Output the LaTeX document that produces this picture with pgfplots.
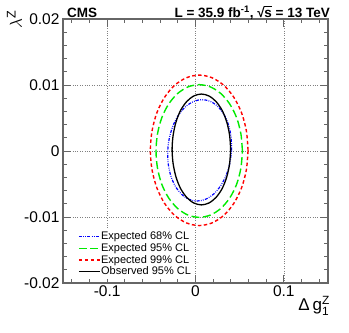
\documentclass[border=0pt]{standalone}
\usepackage{fontspec}
\setmainfont{Liberation Sans}
\usepackage{amsmath}
\usepackage{pgfplots}
\pgfplotsset{compat=1.18}
\usetikzlibrary{calc}
\definecolor{framegray}{gray}{0.4}
\definecolor{rootgreen}{RGB}{0,235,0}
\definecolor{rootred}{RGB}{255,0,0}
\definecolor{rootblue}{RGB}{0,0,255}

\begin{document}
\begin{tikzpicture}
\begin{axis}[
    scale only axis, width=265pt, height=264pt,
    xmin=-0.15, xmax=0.15, ymin=-0.02, ymax=0.02,
    xtick={-0.1,0,0.1}, xticklabels={-0.1,0,0.1},
    ytick={-0.02,-0.01,0,0.01,0.02}, yticklabels={-0.02,-0.01,0,0.01,0.02},
    minor xtick={-0.14,-0.12,-0.08,-0.06,-0.04,-0.02,0.02,0.04,0.06,0.08,0.12,0.14},
    minor ytick={-0.018,-0.016,-0.014,-0.012,-0.008,-0.006,-0.004,-0.002,
                 0.002,0.004,0.006,0.008,0.012,0.014,0.016,0.018},
    scaled ticks=false,
    tick align=inside,
    major tick length=8pt, minor tick length=4pt,
    grid=major, major grid style={dotted, gray, line width=0.6pt},
    axis line style={framegray, line width=1.3pt},
    tick style={framegray, line width=0.9pt},
    ticklabel style={font=\fontsize{15.5}{15.5}\selectfont},
    xticklabel style={yshift=1pt},
    clip=false,
    legend style={at={(rel axis cs:0.045,0.204)}, anchor=north west,
        draw=none, font=\fontsize{11}{11.5}\selectfont,
        nodes={inner sep=0.6pt}, row sep=1pt},
    legend cell align=left,
    legend image code/.code={\draw[#1] (0pt,0pt) -- (21pt,0pt);},
]
\addplot[rootblue, line width=1.2pt, smooth,
    dash pattern=on 3pt off 1.3pt on 0.8pt off 1.3pt on 0.8pt off 1.3pt] coordinates {
(0.0408,0.0001) (0.0403,0.0021) (0.0374,0.00394) (0.0323,0.00553) (0.0252,0.00675)
(0.0168,0.00752) (0.0076,0.00778) (-0.0019,0.00752) (-0.0109,0.00675) (-0.0188,0.00553)
(-0.0251,0.00394) (-0.0294,0.0021) (-0.0314,0.0001) (-0.0309,-0.0019) (-0.0280,-0.00374)
(-0.0229,-0.00533) (-0.0158,-0.00655) (-0.0074,-0.00732) (0.0018,-0.00758) (0.0113,-0.00732)
(0.0203,-0.00655) (0.0282,-0.00533) (0.0345,-0.00374) (0.0388,-0.0019) (0.0408,0.0001)
};
\addlegendentry{Expected 68\% CL}
\addplot[rootgreen, line width=1.4pt, smooth, dash pattern=on 8pt off 3.5pt] coordinates {
(0.0531,0) (0.0514,0.0026) (0.0466,0.00503) (0.0388,0.00711) (0.0287,0.0087)
(0.0169,0.00971) (0.0042,0.01005) (-0.0085,0.00971) (-0.0203,0.0087) (-0.0304,0.00711)
(-0.0382,0.00503) (-0.0430,0.0026) (-0.0447,0) (-0.0430,-0.0026) (-0.0382,-0.00503)
(-0.0304,-0.00711) (-0.0203,-0.0087) (-0.0085,-0.00971) (0.0042,-0.01005) (0.0169,-0.00971)
(0.0287,-0.0087) (0.0388,-0.00711) (0.0466,-0.00503) (0.0514,-0.0026) (0.0531,0)
};
\addlegendentry{Expected 95\% CL}
\addplot[rootred, line width=1.4pt, smooth, dash pattern=on 3.5pt off 2.5pt] coordinates {
(0.0595,0.0001) (0.0576,0.00305) (0.0521,0.0058) (0.0433,0.00816) (0.0319,0.00997)
(0.0185,0.01111) (0.0042,0.0115) (-0.0101,0.01111) (-0.0235,0.00997) (-0.0349,0.00816)
(-0.0437,0.0058) (-0.0492,0.00305) (-0.0511,0.0001) (-0.0492,-0.00285) (-0.0437,-0.0056)
(-0.0349,-0.00796) (-0.0235,-0.00977) (-0.0101,-0.01091) (0.0042,-0.0113) (0.0185,-0.01091)
(0.0319,-0.00977) (0.0433,-0.00796) (0.0521,-0.0056) (0.0576,-0.00285) (0.0595,0.0001)
};
\addlegendentry{Expected 99\% CL}
\addplot[black, line width=1.3pt, smooth] coordinates {
(0.0398,0.00023) (0.0386,0.0024) (0.0353,0.00443) (0.0301,0.00617) (0.0232,0.0075)
(0.0152,0.00834) (0.0067,0.00863) (-0.0019,0.00834) (-0.0099,0.0075) (-0.0168,0.00617)
(-0.0220,0.00443) (-0.0253,0.0024) (-0.0265,0.00023) (-0.0253,-0.00194) (-0.0220,-0.00397)
(-0.0168,-0.00571) (-0.0099,-0.00704) (-0.0019,-0.00788) (0.0067,-0.00817) (0.0152,-0.00788)
(0.0232,-0.00704) (0.0301,-0.00571) (0.0353,-0.00397) (0.0386,-0.00194) (0.0398,0.00023)
};
\addlegendentry{Observed 95\% CL}
\coordinate (sw) at (rel axis cs:0,0);
\coordinate (se) at (rel axis cs:1,0);
\coordinate (nw) at (rel axis cs:0,1);
\coordinate (ne) at (rel axis cs:1,1);
\end{axis}
\node[anchor=base west, inner sep=0pt, font=\bfseries\fontsize{13.5}{14}\selectfont]
    at ($(nw)+(4pt,1.5pt)$) {CMS};
\node[anchor=base east, inner sep=0pt, font=\bfseries\fontsize{13.5}{14}\selectfont]
    at ($(ne)+(2pt,1.5pt)$)
    {L = 35.9 fb\textsuperscript{-1}, √\kern-0.4pt\rlap{\rule[0.76em]{0.55em}{0.07em}}s = 13 TeV};
\node[rotate=90, anchor=south east, inner sep=0pt, font=\fontsize{18}{18}\selectfont]
    at ($(nw)+(-41pt,9pt)$) {$\lambda$\textsuperscript{Z}};
\node[anchor=north east, inner sep=0pt, font=\fontsize{17}{17}\selectfont]
    at ($(se)+(2pt,-13pt)$) {Δ\,g$_{\text{1}}^{\text{Z}}$};
\pgfresetboundingbox
\path ($(sw)+(-63pt,-50pt)$) rectangle ($(ne)+(21pt,19pt)$);
\end{tikzpicture}
\end{document}
